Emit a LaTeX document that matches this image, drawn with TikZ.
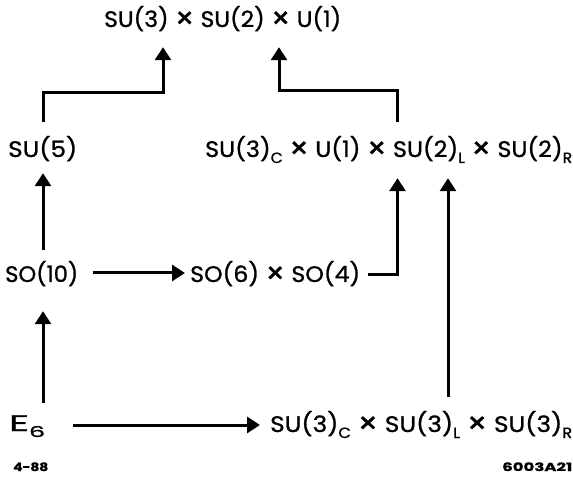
\documentclass[tikz,border=0pt]{standalone}
\usepackage{fontspec}
\setmainfont{Poppins}[FakeBold=1]
\usepackage{graphicx}
\usetikzlibrary{arrows.meta}

% stretch a piece of text horizontally to a given width (in pt)
\newsavebox\fitbox
\newlength\fitlen
\newcommand\fitw[2]{\sbox\fitbox{#2}\setlength\fitlen{\wd\fitbox}%
  \pgfmathsetmacro\fitfac{#1/\fitlen}\scalebox{\fitfac}[1]{\usebox\fitbox}}
% lowered small index (C, L, R, 6)
\newcommand\lsub[1]{\raisebox{-6pt}{\scalebox{0.66}{#1}}}
% product sign, drawn a little larger and sitting low
\newcommand\tm{\raisebox{-1.5pt}{\scalebox{1.3}{×}}}

\begin{document}
\begin{tikzpicture}[x=1pt,y=-1pt,
  grp/.style={inner sep=0pt, anchor=base west, text height=15pt, text depth=2pt,
    font=\fontsize{22.5pt}{25pt}\selectfont},
  note/.style={inner sep=0pt, anchor=base west,
    font=\fontsize{11.5pt}{13pt}\selectfont\bfseries},
  conn/.style={line width=3pt},
  arr/.style={conn, -{Triangle[width=16pt,length=13pt]}}]

\fill[white] (0,0) rectangle (573,478);
\useasboundingbox (0,0) rectangle (573,478);

% groups
\node[grp] (top)  at (104,27)  {\fitw{237}{SU(3) \tm{} SU(2) \tm{} U(1)}};
\node[grp] (su5)  at (8,157)   {\fitw{69}{SU(5)}};
\node[grp] (lr)   at (205,157) {\fitw{367}{SU(3)\lsub{C} \tm{} U(1) \tm{} SU(2)\lsub{L} \tm{} SU(2)\lsub{R}}};
\node[grp] (so10) at (5,282)   {\fitw{73}{SO(10)}};
\node[grp] (ps)   at (190,282) {\fitw{170}{SO(6) \tm{} SO(4)}};
\node[grp] (e6)   at (9,431)   {\fitw{36}{E\lsub{6}}};
\node[grp] (tri)  at (270,432) {\fitw{302}{SU(3)\lsub{C} \tm{} SU(3)\lsub{L} \tm{} SU(3)\lsub{R}}};

% figure codes
\node[note] (date) at (13,471)  {\fitw{35}{4-88}};
\node[note] (code) at (502,471) {\fitw{70}{6003A21}};

% bend points and columns
\coordinate (jL) at (43,93);
\coordinate (kL) at (163,93);
\coordinate (jR) at (397.5,91);
\coordinate (kR) at (279,91);
\coordinate (cL) at (43,0);
\coordinate (cP) at (397.5,275);
\coordinate (cT) at (448,0);
\coordinate (rS) at (0,273);
\coordinate (rE) at (0,425);

% breaking chains
\draw[arr, shorten <=20pt, shorten >=18pt] (su5.north -| jL) -- (jL) -- (kL) -- (top.south -| kL);
\draw[arr, shorten <=20pt, shorten >=18pt] (lr.north -| jR) -- (jR) -- (kR) -- (top.south -| kR);
\draw[arr, shorten <=17pt, shorten >=14pt] (so10.north -| cL) -- (su5.south -| cL);
\draw[arr, shorten <=13pt, shorten >=27pt] (e6.north -| cL) -- (so10.south -| cL);
\draw[arr, shorten <=15pt, shorten >=5pt] (so10.east |- rS) -- (ps.west |- rS);
\draw[arr, shorten <=8pt, shorten >=19pt] (ps.east |- cP) -- (cP) -- (lr.south -| cP);
\draw[arr, shorten <=20pt, shorten >=19pt] (tri.north -| cT) -- (lr.south -| cT);
\draw[arr, shorten <=28pt, shorten >=10pt] (e6.east |- rE) -- (tri.west |- rE);
\end{tikzpicture}
\end{document}
